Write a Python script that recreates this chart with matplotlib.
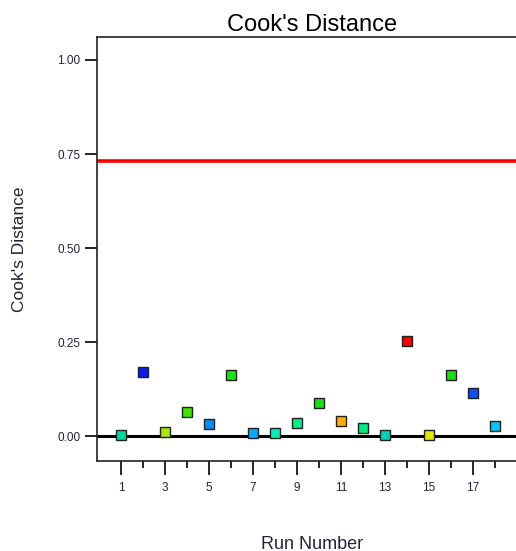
import matplotlib.pyplot as plt
from matplotlib.ticker import MultipleLocator

plt.rcParams['font.family'] = ['Liberation Sans', 'DejaVu Sans']

# Cook's distance per run
runs = list(range(1, 19))
cooks = [0.003, 0.170, 0.011, 0.064, 0.032, 0.162, 0.008, 0.008, 0.035,
         0.088, 0.040, 0.021, 0.003, 0.253, 0.003, 0.162, 0.114, 0.027]
point_colors = ['#00d8a0', '#0a1cf5', '#a8e800', '#3ce800', '#0a8cff', '#14e814',
                '#08a8ff', '#00f0b4', '#00f088', '#14e014', '#ffb000', '#00ec80',
                '#00d4b8', '#ff0000', '#e4e800', '#14e014', '#0a50ff', '#00c4ff']
limit = 0.731

fig = plt.figure(figsize=(5.16, 5.51), dpi=100)
ax = fig.add_axes([0.188, 0.1633, 0.835, 0.7695])

ax.axhline(limit, color='#ff0000', lw=2.6, zorder=2)
ax.axhline(0, color='black', lw=2.2, zorder=2)
for r, c, col in zip(runs, cooks, point_colors):
    ax.plot(r, c, 's', ms=7.2, mfc=col, mec='#202020', mew=1.0, zorder=3)

ax.set_xlim(-0.1, 19.5)
ax.set_ylim(-0.066, 1.061)
ax.set_yticks([0, 0.25, 0.5, 0.75, 1.0])
ax.set_yticklabels(['0.00', '0.25', '0.50', '0.75', '1.00'])
ax.set_xticks(range(1, 18, 2))
ax.set_xticks(range(2, 19, 2), minor=True)

ax.spines['right'].set_visible(False)
for s in ['left', 'top', 'bottom']:
    ax.spines[s].set_linewidth(1.2)
    ax.spines[s].set_color('#222222')

ax.tick_params(axis='y', direction='out', length=9, width=1.2, labelsize=8.5,
               labelcolor='#22223a', pad=3)
ax.tick_params(axis='x', which='major', direction='out', length=10, width=1.2,
               labelsize=8.5, labelcolor='#22223a', pad=5)
ax.tick_params(axis='x', which='minor', direction='out', length=5, width=1.2)

ax.set_title("Cook's Distance", fontsize=17, pad=4)
ax.set_ylabel("Cook's Distance", fontsize=12.5, color='#22223a', labelpad=22)
ax.set_xlabel('Run Number', fontsize=13, color='#22223a', labelpad=30)

fig.savefig('out.png', dpi=100)
